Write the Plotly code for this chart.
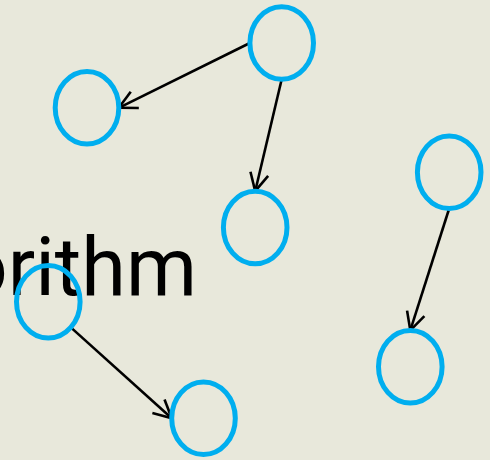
import math
import plotly.graph_objects as go

# ---- data ----
node_x = [281.7, 87.0, 255.2, 449.2, 410.3, 48.3, 203.5]
node_y = [43.0, 107.8, 227.5, 172.2, 366.7, 301.7, 418.2]
edge_source = [0, 0, 3, 5]
edge_target = [1, 2, 4, 6]
edge_source_side = ["left", "bottom", "bottom", "lowerright"]
edge_target_side = ["right", "top", "top", "left"]
title_text = "Algorithm"

# ---- style ----
RX, RY = 31.8, 36.3
CIRCLE_COLOR = "#00AEEF"
BG = "#E8E8DB"
HEAD_LEN = 20
HEAD_ANGLE = math.radians(27)

def side_point(i, side):
    cx, cy = node_x[i], node_y[i]
    if side == "left":
        return cx - RX, cy
    if side == "right":
        return cx + RX, cy
    if side == "top":
        return cx, cy - RY
    if side == "bottom":
        return cx, cy + RY
    if side == "lowerright":
        return cx + RX * math.cos(math.pi / 4), cy + RY * math.sin(math.pi / 4)
    return cx, cy

fig = go.Figure()

# title text (drawn under the circles)
fig.add_trace(go.Scatter(
    x=[197], y=[315], mode="text", text=[title_text],
    textposition="top left",
    textfont=dict(family="Roboto", size=81, color="black"),
    hoverinfo="skip", showlegend=False, cliponaxis=False,
))

# arrows
lx, ly = [], []
for s, t, ss, ts in zip(edge_source, edge_target, edge_source_side, edge_target_side):
    x0, y0 = side_point(s, ss)
    x1, y1 = side_point(t, ts)
    lx += [x0, x1, None]
    ly += [y0, y1, None]
    ang = math.atan2(y0 - y1, x0 - x1)
    for sgn in (-1, 1):
        a = ang + sgn * HEAD_ANGLE
        lx += [x1, x1 + HEAD_LEN * math.cos(a), None]
        ly += [y1, y1 + HEAD_LEN * math.sin(a), None]

fig.add_trace(go.Scatter(
    x=lx, y=ly, mode="lines",
    line=dict(color="black", width=2.6),
    hoverinfo="skip", showlegend=False,
))

# circles
for cx, cy in zip(node_x, node_y):
    fig.add_shape(type="circle", xref="x", yref="y",
                  x0=cx - RX, x1=cx + RX, y0=cy - RY, y1=cy + RY,
                  line=dict(color=CIRCLE_COLOR, width=5),
                  fillcolor="rgba(0,0,0,0)", layer="above")

fig.update_layout(
    width=490, height=460,
    margin=dict(l=0, r=0, t=0, b=0),
    paper_bgcolor=BG, plot_bgcolor=BG,
    xaxis=dict(range=[0, 490], visible=False, fixedrange=True),
    yaxis=dict(range=[460, 0], visible=False, fixedrange=True),
    showlegend=False,
)

fig.write_html(
    "out.html",
    config={"displayModeBar": False},
    post_script="document.body.style.margin='0';document.body.style.background='" + BG + "';",
)
